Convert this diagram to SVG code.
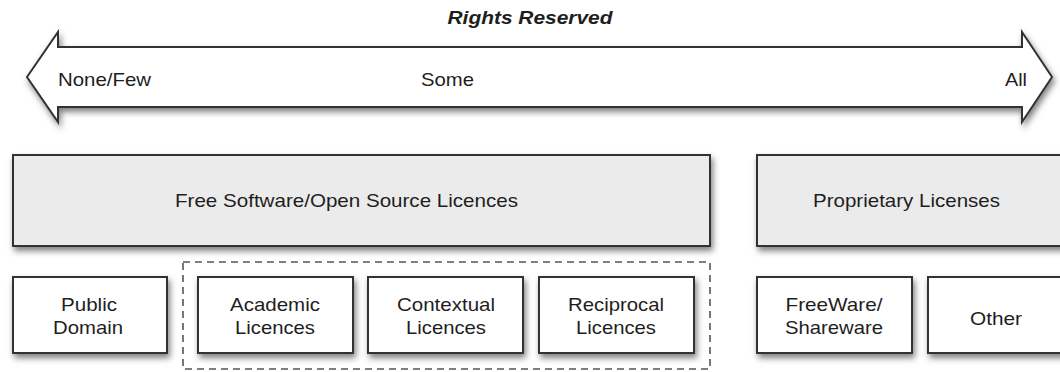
<svg xmlns="http://www.w3.org/2000/svg" width="1060" height="372" viewBox="0 0 1060 372">
<defs>
<filter id="sh" x="-10%" y="-20%" width="130%" height="160%">
<feDropShadow dx="2" dy="4" stdDeviation="3" flood-color="#000" flood-opacity="0.5"/>
</filter>
<style>
.box{stroke:#333;stroke-width:2;filter:url(#sh)}
.big{fill:#ebebeb}
.small{fill:#ffffff}
.t{font-family:"Liberation Sans",Arial,sans-serif;font-size:18.5px;fill:#1e1e1e}
.c{text-anchor:middle}
.dash{fill:none;stroke:#555;stroke-width:1.6;stroke-dasharray:7 5}
</style>
</defs>
<rect width="1060" height="372" fill="#ffffff"/>
<text class="t c" x="530" y="24" style="font-weight:bold;font-style:italic" textLength="165" lengthAdjust="spacingAndGlyphs">Rights Reserved</text>
<g id="arrow">
<path class="box small" d="M27,77 L58,32 L58,47 L1022,47 L1022,32 L1052,77 L1022,122 L1022,107 L58,107 L58,122 Z"/>
<text class="t" x="58" y="86" textLength="93" lengthAdjust="spacingAndGlyphs">None/Few</text>
<text class="t" x="421" y="86" textLength="53" lengthAdjust="spacingAndGlyphs">Some</text>
<text class="t" x="1005" y="86" textLength="22" lengthAdjust="spacingAndGlyphs">All</text>
</g>
<g id="foss">
<rect class="box big" x="13" y="155" width="697" height="91"/>
<text class="t" x="175" y="207" textLength="343" lengthAdjust="spacingAndGlyphs">Free Software/Open Source Licences</text>
</g>
<g id="proprietary">
<rect class="box big" x="757" y="155" width="310" height="91"/>
<text class="t" x="813" y="207" textLength="187" lengthAdjust="spacingAndGlyphs">Proprietary Licenses</text>
</g>
<g id="group">
<rect class="dash" x="183" y="262" width="527" height="107"/>
</g>
<g id="public">
<rect class="box small" x="13" y="277" width="154" height="76"/>
<text class="t c" x="89" y="311" textLength="56" lengthAdjust="spacingAndGlyphs">Public</text>
<text class="t c" x="88" y="334" textLength="70" lengthAdjust="spacingAndGlyphs">Domain</text>
</g>
<g id="academic">
<rect class="box small" x="198" y="277" width="155" height="76"/>
<text class="t c" x="275" y="311" textLength="90" lengthAdjust="spacingAndGlyphs">Academic</text>
<text class="t c" x="275" y="334" textLength="80" lengthAdjust="spacingAndGlyphs">Licences</text>
</g>
<g id="contextual">
<rect class="box small" x="368" y="277" width="155" height="76"/>
<text class="t c" x="446" y="311" textLength="98" lengthAdjust="spacingAndGlyphs">Contextual</text>
<text class="t c" x="446" y="334" textLength="80" lengthAdjust="spacingAndGlyphs">Licences</text>
</g>
<g id="reciprocal">
<rect class="box small" x="539" y="277" width="155" height="76"/>
<text class="t c" x="616" y="311" textLength="96" lengthAdjust="spacingAndGlyphs">Reciprocal</text>
<text class="t c" x="616" y="334" textLength="80" lengthAdjust="spacingAndGlyphs">Licences</text>
</g>
<g id="freeware">
<rect class="box small" x="757" y="277" width="155" height="76"/>
<text class="t c" x="834" y="311" textLength="97" lengthAdjust="spacingAndGlyphs">FreeWare/</text>
<text class="t c" x="834" y="334" textLength="98" lengthAdjust="spacingAndGlyphs">Shareware</text>
</g>
<g id="other">
<rect class="box small" x="928" y="277" width="140" height="76"/>
<text class="t c" x="996" y="325" textLength="52" lengthAdjust="spacingAndGlyphs">Other</text>
</g>
<g id="connectors"></g>
</svg>
